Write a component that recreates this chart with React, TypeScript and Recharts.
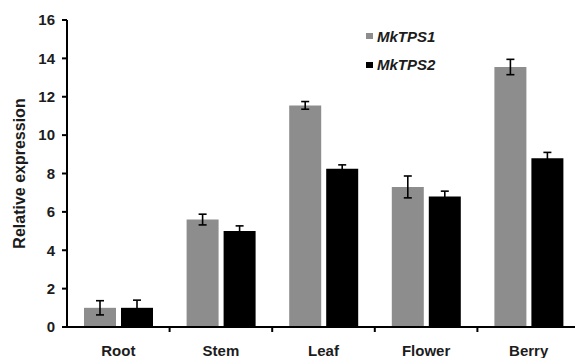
import { BarChart, Bar, XAxis, YAxis, ErrorBar } from 'recharts'

const tissues = ['Root', 'Stem', 'Leaf', 'Flower', 'Berry']
const mkTps1 = [1.0, 5.6, 11.55, 7.3, 13.55]
const mkTps1Err = [0.37, 0.28, 0.2, 0.57, 0.4]
const mkTps2 = [1.0, 5.0, 8.25, 6.8, 8.8]
const mkTps2Err = [0.4, 0.27, 0.2, 0.28, 0.3]
const yTicks = [0, 2, 4, 6, 8, 10, 12, 14, 16]

const data = tissues.map((t, i) => ({
  tissue: t,
  MkTPS1: mkTps1[i],
  err1: mkTps1Err[i],
  MkTPS2: mkTps2[i],
  err2: mkTps2Err[i],
}))

const FONT = '"Liberation Sans", Arial, sans-serif'
const GRAY = '#8d8d8d'
const INK = '#1c1c1c'

function TissueTick(props: any) {
  const { x, y, payload } = props
  const half = payload?.offset ?? 51.25
  return (
    <g>
      {payload.index > 0 && (
        <line x1={x - half} x2={x - half} y1={y} y2={y + 5} stroke="#000" strokeWidth={2} />
      )}
      <text
        x={x}
        y={y + 29}
        textAnchor="middle"
        fill={INK}
        fontSize={15}
        fontWeight="bold"
        fontFamily={FONT}
      >
        {payload.value}
      </text>
    </g>
  )
}

function LegendBox() {
  const rows = [
    { name: 'MkTPS1', color: GRAY },
    { name: 'MkTPS2', color: '#000' },
  ]
  return (
    <div style={{ position: 'absolute', left: 366, top: 22, fontFamily: FONT }}>
      {rows.map((r) => (
        <div key={r.name} style={{ display: 'flex', alignItems: 'center', height: 28.5 }}>
          <span style={{ width: 7, height: 6, background: r.color, marginRight: 4 }} />
          <span style={{ fontSize: 15, fontWeight: 'bold', fontStyle: 'italic', color: INK }}>
            {r.name}
          </span>
        </div>
      ))}
    </div>
  )
}

export default function App() {
  return (
    <div style={{ position: 'absolute', left: 0, top: 0, width: 575, height: 358, background: '#fff' }}>
      <BarChart
        width={575}
        height={358}
        data={data}
        margin={{ top: 20, right: -5, left: 0, bottom: 0 }}
        barSize={32}
        barGap={5}
      >
        <XAxis
          dataKey="tissue"
          tick={<TissueTick />}
          tickLine={false}
          tickSize={0}
          tickMargin={0}
          axisLine={{ stroke: '#000', strokeWidth: 2 }}
          height={31}
          interval={0}
        />
        <YAxis
          domain={[0, 16]}
          ticks={yTicks}
          width={67}
          tickSize={5}
          tickMargin={7}
          axisLine={{ stroke: '#000', strokeWidth: 2 }}
          tickLine={{ stroke: '#000', strokeWidth: 2 }}
          tick={{ fill: INK, fontSize: 15, fontWeight: 'bold', fontFamily: FONT }}
          label={{
            value: 'Relative expression',
            angle: -90,
            position: 'insideLeft',
            offset: 19,
            style: { textAnchor: 'middle', fill: INK, fontSize: 16, fontWeight: 'bold', fontFamily: FONT },
          }}
        />
        <Bar dataKey="MkTPS1" fill={GRAY} isAnimationActive={false}>
          <ErrorBar dataKey="err1" width={4} stroke="#000" strokeWidth={1.6} />
        </Bar>
        <Bar dataKey="MkTPS2" fill="#000" isAnimationActive={false}>
          <ErrorBar dataKey="err2" width={4} stroke="#000" strokeWidth={1.6} />
        </Bar>
      </BarChart>
      <LegendBox />
    </div>
  )
}
